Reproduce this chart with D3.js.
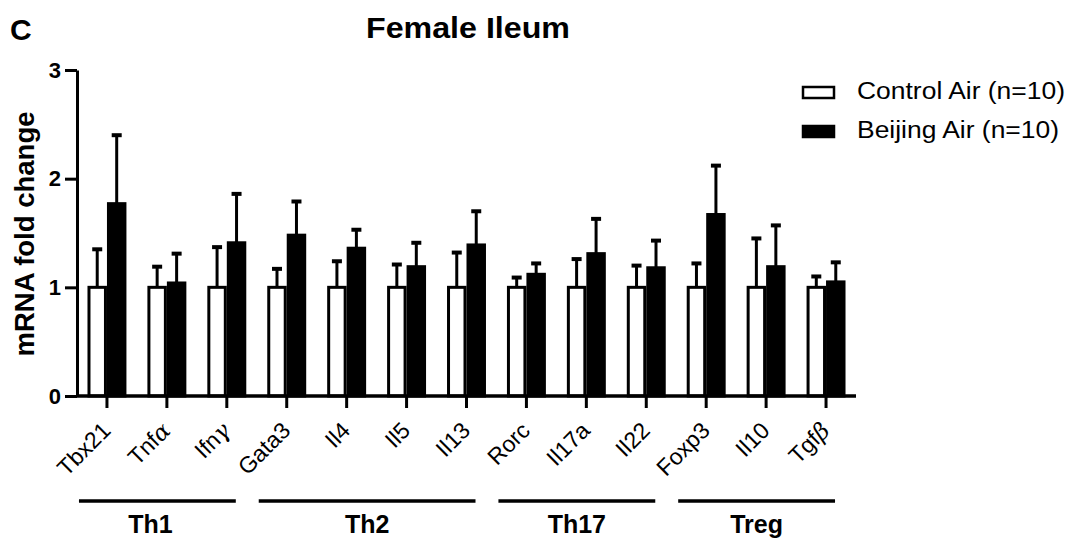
<!DOCTYPE html>
<html>
<head>
<meta charset="utf-8">
<script src="https://cdn.jsdelivr.net/npm/d3@7"></script>
<style>
  body { margin: 0; background: #fff; }
  svg { font-family: Arial, "Liberation Sans", sans-serif; }
</style>
</head>
<body>
<div id="chart"></div>
<script>
// genes (name + optional greek suffix)
const genes = ["Tbx21", "Tnf", "Ifn", "Gata3", "Il4", "Il5", "Il13", "Rorc", "Il17a", "Il22", "Foxp3", "Il10", "Tgf"];
const greek = ["", "α", "γ", "", "", "", "", "", "", "", "", "", "β"];

const controlMean = [1, 1, 1, 1, 1, 1, 1, 1, 1, 1, 1, 1, 1];
const controlErr  = [0.35, 0.19, 0.37, 0.17, 0.24, 0.21, 0.32, 0.09, 0.26, 0.20, 0.22, 0.45, 0.10];
const beijingMean = [1.77, 1.04, 1.41, 1.48, 1.36, 1.19, 1.39, 1.12, 1.31, 1.18, 1.67, 1.19, 1.05];
const beijingErr  = [0.63, 0.27, 0.45, 0.31, 0.17, 0.22, 0.31, 0.10, 0.32, 0.25, 0.45, 0.38, 0.18];

const groupNames = ["Th1", "Th2", "Th17", "Treg"];
const groupStart = [0, 3, 7, 10];
const groupEnd   = [2, 6, 9, 12];

const yTicks = [0, 1, 2, 3];

const width = 1072, height = 541;
const margin = {top: 70, left: 77, right: 216, bottom: 145};

const svg = d3.select("#chart").append("svg")
    .attr("width", width)
    .attr("height", height);

const x = d3.scaleBand()
    .domain(d3.range(genes.length))
    .range([margin.left, width - margin.right])
    .paddingInner(0.35)
    .paddingOuter(0.175);

const y = d3.scaleLinear()
    .domain([0, 3])
    .range([height - margin.bottom, margin.top]);

const bw = x.bandwidth() / 2;

const series = [
    {mean: controlMean, err: controlErr, fill: "#fff", off: 0},
    {mean: beijingMean, err: beijingErr, fill: "#000", off: bw}
];

// error bars (upward only)
series.forEach(s => {
    const g = svg.append("g");
    genes.forEach((name, i) => {
        const cx = x(i) + s.off + bw / 2;
        g.append("line")
            .attr("x1", cx).attr("x2", cx)
            .attr("y1", y(s.mean[i])).attr("y2", y(s.mean[i] + s.err[i]))
            .attr("stroke", "#000").attr("stroke-width", 3);
        g.append("line")
            .attr("x1", cx - 5).attr("x2", cx + 5)
            .attr("y1", y(s.mean[i] + s.err[i])).attr("y2", y(s.mean[i] + s.err[i]))
            .attr("stroke", "#000").attr("stroke-width", 4);
    });
});

// bars
series.forEach(s => {
    svg.append("g").selectAll("rect")
        .data(genes.map((g, i) => i))
        .enter().append("rect")
        .attr("x", i => x(i) + s.off + 1.5)
        .attr("y", i => y(s.mean[i]))
        .attr("width", bw - 3)
        .attr("height", i => y(0) - y(s.mean[i]))
        .attr("fill", s.fill)
        .attr("stroke", "#000")
        .attr("stroke-width", 3);
});

// Y axis
const yAxis = svg.append("g")
    .attr("transform", `translate(${margin.left},0)`)
    .call(d3.axisLeft(y).tickValues(yTicks).tickFormat(d3.format("d")).tickSize(12).tickSizeOuter(0));
yAxis.select(".domain").attr("stroke-width", 3);
yAxis.selectAll(".tick line").attr("stroke-width", 3);
yAxis.selectAll(".tick text")
    .attr("font-size", 22).attr("font-weight", "bold")
    .attr("font-family", "Arial, 'Liberation Sans', sans-serif")
    .attr("x", -16).attr("fill", "#000");

// X axis
const xAxis = svg.append("g")
    .attr("transform", `translate(0,${y(0)})`)
    .call(d3.axisBottom(x).tickSize(12).tickSizeOuter(0).tickFormat(""));
xAxis.select(".domain").attr("stroke-width", 3.5).attr("d", `M${margin.left},0H${width - margin.right}`);
xAxis.selectAll(".tick line").attr("stroke-width", 3);

// X tick labels
genes.forEach((name, i) => {
    const cx = x(i) + x.bandwidth() / 2;
    const t = svg.append("text")
        .attr("transform", `translate(${cx + 5},${y(0) + 36}) rotate(-45)`)
        .attr("text-anchor", "end")
        .attr("font-size", 23)
        .attr("fill", "#000");
    t.append("tspan").text(name);
    if (greek[i]) {
        t.append("tspan")
            .attr("font-family", "'DejaVu Serif', serif")
            .attr("font-style", "italic")
            .text(greek[i]);
    }
});

// group lines and labels
groupNames.forEach((gname, k) => {
    const x0 = x(groupStart[k]) + x.bandwidth() / 2 - 28;
    const x1 = x(groupEnd[k]) + x.bandwidth() / 2 + 9;
    svg.append("line")
        .attr("x1", x0).attr("x2", x1)
        .attr("y1", 501).attr("y2", 501)
        .attr("stroke", "#000").attr("stroke-width", 3.5);
    svg.append("text")
        .attr("x", (x0 + x1) / 2 - (k === 0 ? 7 : 0)).attr("y", 533)
        .attr("text-anchor", "middle")
        .attr("font-size", 25).attr("font-weight", "bold")
        .text(gname);
});

// Y axis title
svg.append("text")
    .attr("transform", `translate(34,${(y(0) + y(3)) / 2 + 1}) rotate(-90)`)
    .attr("text-anchor", "middle")
    .attr("font-size", 27).attr("font-weight", "bold")
    .attr("textLength", 245).attr("lengthAdjust", "spacingAndGlyphs")
    .text("mRNA fold change");

// title and panel letter
svg.append("text")
    .attr("x", 468).attr("y", 38)
    .attr("text-anchor", "middle")
    .attr("font-size", 29).attr("font-weight", "bold")
    .attr("textLength", 204).attr("lengthAdjust", "spacingAndGlyphs")
    .text("Female Ileum");
svg.append("text")
    .attr("x", 10).attr("y", 40)
    .attr("font-size", 30).attr("font-weight", "bold")
    .text("C");

// legend
const legendLabels = ["Control Air (n=10)", "Beijing Air (n=10)"];
const legendFills = ["#fff", "#000"];
const legendLen = [208, 202];
legendLabels.forEach((lab, i) => {
    const ly = 92 + i * 39;
    svg.append("rect")
        .attr("x", 803).attr("y", ly - 5)
        .attr("width", 31).attr("height", 11)
        .attr("fill", legendFills[i]).attr("stroke", "#000").attr("stroke-width", 2.5);
    svg.append("text")
        .attr("x", 857).attr("y", ly + 7)
        .attr("font-size", 23)
        .attr("textLength", legendLen[i]).attr("lengthAdjust", "spacingAndGlyphs")
        .text(lab);
});
</script>
</body>
</html>
